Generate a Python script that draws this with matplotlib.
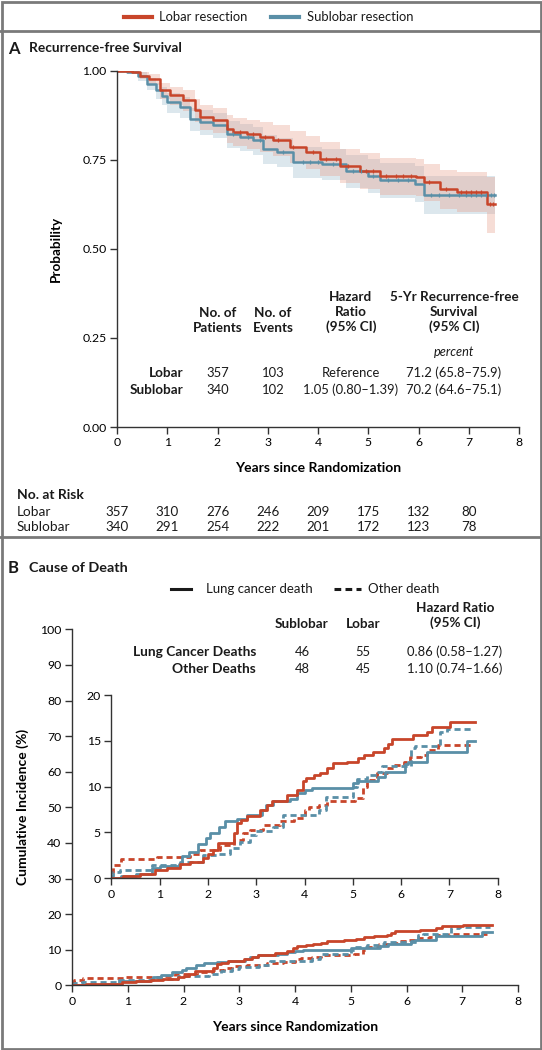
import numpy as np
import matplotlib.pyplot as plt
import matplotlib.transforms as mtransforms
from matplotlib.lines import Line2D
from matplotlib.patches import Rectangle

plt.rcParams['font.family'] = ['Lato', 'DejaVu Sans']
plt.rcParams['font.size'] = 9
plt.rcParams['text.color'] = '#1a1a1a'

W, H = 542, 1050
RED = '#C8452A'
BLUE = '#5A8FA7'
FRAME = '#7a7a7a'

# ---- Panel A: recurrence-free survival
t_lobar = [0, 0.3, 0.45, 0.63, 0.86, 1.05, 1.32, 1.55, 1.65, 1.92, 2.18, 2.31, 2.58, 2.85,
           3.11, 3.44, 3.77, 4.04, 4.44, 4.84, 5.23, 5.96, 6.1, 6.43, 6.76, 7.36, 7.52]
s_lobar = [1.0, 0.995, 0.985, 0.975, 0.944, 0.93, 0.916, 0.888, 0.869, 0.86, 0.836, 0.827,
           0.822, 0.813, 0.804, 0.785, 0.771, 0.752, 0.733, 0.719, 0.704, 0.701, 0.687,
           0.668, 0.659, 0.626, 0.626]
lo_lobar = [1.0, 0.99, 0.975, 0.958, 0.92, 0.903, 0.886, 0.855, 0.834, 0.824, 0.797, 0.787,
            0.78, 0.77, 0.76, 0.74, 0.725, 0.705, 0.684, 0.669, 0.652, 0.649, 0.634, 0.612,
            0.602, 0.545, 0.545]
hi_lobar = [1.0, 1.0, 0.995, 0.99, 0.966, 0.955, 0.944, 0.92, 0.902, 0.894, 0.874, 0.866,
            0.862, 0.855, 0.847, 0.829, 0.816, 0.799, 0.781, 0.768, 0.755, 0.752, 0.739,
            0.722, 0.714, 0.702, 0.702]

t_sub = [0, 0.2, 0.42, 0.6, 0.77, 0.89, 1.0, 1.25, 1.45, 1.65, 1.92, 2.18, 2.45, 2.71,
         2.91, 3.18, 3.51, 4.07, 4.55, 5.0, 5.24, 5.93, 6.1, 7.52]
s_sub = [1.0, 0.995, 0.984, 0.962, 0.944, 0.928, 0.911, 0.897, 0.864, 0.855, 0.846, 0.822,
         0.813, 0.804, 0.78, 0.771, 0.743, 0.738, 0.718, 0.705, 0.693, 0.683, 0.651, 0.651]
lo_sub = [1.0, 0.99, 0.97, 0.944, 0.92, 0.902, 0.882, 0.866, 0.83, 0.82, 0.81, 0.784, 0.774,
          0.764, 0.738, 0.728, 0.699, 0.693, 0.671, 0.656, 0.643, 0.632, 0.598, 0.595]
hi_sub = [1.0, 1.0, 0.995, 0.98, 0.965, 0.953, 0.938, 0.926, 0.896, 0.888, 0.88, 0.858,
          0.85, 0.842, 0.82, 0.812, 0.786, 0.781, 0.763, 0.752, 0.741, 0.733, 0.703, 0.703]

cens_lobar = [2.45, 2.7, 2.95, 3.2, 3.5, 3.9, 4.15, 4.35, 4.6, 4.95, 5.1, 5.35, 5.55, 5.7,
              5.85, 6.2, 6.55, 6.85, 6.95, 7.05, 7.15, 7.25, 7.42, 7.48]
cens_sub = [2.3, 2.6, 2.85, 3.3, 3.7, 3.85, 4.0, 4.3, 4.7, 4.85, 5.1, 5.4, 5.6, 5.8, 6.25,
            6.4, 6.6, 6.8, 6.95, 7.05, 7.15, 7.25, 7.35, 7.45, 7.5]

years = [0, 1, 2, 3, 4, 5, 6, 7]
risk_lobar = [357, 310, 276, 246, 209, 175, 132, 80]
risk_sub = [340, 291, 254, 222, 201, 172, 123, 78]

# ---- Panel B: cumulative incidence (%) by cause of death
t_lob_lc = [0, 0.25, 0.6, 0.9, 1.15, 1.42, 1.63, 1.9, 2.0, 2.1, 2.2, 2.53, 2.6, 2.68, 2.8,
            3.08, 3.23, 3.33, 3.64, 3.85, 3.97, 4.04, 4.19, 4.33, 4.47, 4.58, 4.87, 5.1,
            5.24, 5.41, 5.65, 5.72, 5.8, 6.25, 6.53, 6.64, 7.02, 7.53]
v_lob_lc = [0, 0.3, 0.5, 0.9, 1.1, 1.6, 1.8, 2.2, 2.7, 3.1, 3.9, 4.9, 6.0, 6.4, 6.8, 7.5,
            8.0, 8.4, 9.1, 9.6, 10.6, 10.9, 11.3, 11.5, 12.0, 12.55, 12.7, 13.1, 13.5, 13.8,
            14.2, 14.7, 15.2, 15.6, 16.0, 16.55, 17.0, 17.0]

t_sub_lc = [0, 0.2, 0.52, 0.84, 1.0, 1.4, 1.46, 1.6, 1.8, 1.97, 2.05, 2.22, 2.36, 2.6, 2.8,
            3.11, 3.2, 3.34, 3.7, 3.85, 4.0, 4.15, 5.01, 5.11, 5.53, 5.67, 6.08, 6.15, 6.53,
            7.36, 7.53]
v_sub_lc = [0, 0.2, 0.47, 1.1, 1.3, 1.6, 2.4, 2.9, 3.7, 4.4, 4.9, 5.6, 6.3, 6.5, 6.9, 7.5,
            7.95, 8.4, 8.7, 9.3, 9.6, 9.8, 10.4, 10.6, 11.0, 11.6, 12.5, 12.7, 13.8, 15.0, 15.0]

t_lob_ot = [0, 0.04, 0.2, 0.94, 1.63, 1.84, 2.25, 2.53, 2.73, 2.87, 3.14, 3.49, 3.78, 4.0,
            4.1, 4.3, 4.46, 4.6, 5.05, 5.22, 5.29, 5.5, 5.7, 5.85, 6.05, 6.19, 6.4, 6.53,
            6.77, 7.45]
v_lob_ot = [0.7, 1.45, 2.07, 2.36, 2.7, 3.1, 3.6, 4.2, 4.9, 5.3, 5.8, 6.2, 6.55, 7.45, 7.8,
            8.0, 8.4, 8.45, 8.8, 10.0, 10.7, 11.5, 12.0, 12.4, 12.7, 13.2, 13.45, 14.0,
            14.55, 14.55]

t_sub_ot = [0, 0.04, 0.18, 0.84, 1.42, 1.9, 2.18, 2.46, 2.67, 2.87, 3.0, 3.35, 3.56, 4.3,
            4.45, 5.01, 5.08, 5.29, 5.5, 5.6, 6.2, 6.29, 6.8, 6.94, 7.5]
v_sub_ot = [0.3, 0.72, 0.9, 1.45, 1.8, 2.54, 2.7, 3.3, 4.0, 4.7, 5.2, 5.6, 6.9, 7.4, 8.9,
            10.0, 10.8, 11.3, 11.6, 12.2, 14.2, 14.4, 16.0, 16.3, 16.3]


def fx(x):
    return x / W


def fy(y):
    return 1 - y / H


def style_axis(ax):
    for side in ['top', 'right']:
        ax.spines[side].set_visible(False)
    for side in ['left', 'bottom']:
        ax.spines[side].set_linewidth(1.0)
        ax.spines[side].set_color('#333333')
    ax.tick_params(direction='out', length=5, width=1.0, color='#333333',
                   labelsize=8.8, pad=2.5)
    ax.patch.set_alpha(0)


def step_at(t, s, x):
    idx = np.searchsorted(t, x, side='right') - 1
    return np.asarray(s)[idx]


fig = plt.figure(figsize=(W / 100, H / 100), dpi=100)

# frame and panel separators
fig.add_artist(Rectangle((fx(1.5), fy(1048.5)), (W - 3) / W, (H - 3) / H,
                         transform=fig.transFigure, fill=False, ec=FRAME, lw=2))
for yy in [31, 537]:
    fig.add_artist(Line2D([0, 1], [fy(yy), fy(yy)], transform=fig.transFigure,
                          color=FRAME, lw=2))

# top legend
fig.add_artist(Line2D([fx(124), fx(152)], [fy(17), fy(17)], transform=fig.transFigure,
                      color=RED, lw=3))
fig.text(fx(159), fy(17), 'Lobar resection', va='center', fontsize=9.4)
fig.add_artist(Line2D([fx(271), fx(299)], [fy(17), fy(17)], transform=fig.transFigure,
                      color=BLUE, lw=3))
fig.text(fx(307), fy(17), 'Sublobar resection', va='center', fontsize=9.4)

# ---------------- Panel A ----------------
fig.text(fx(8), fy(48.5), 'A', fontsize=12, fontweight='bold', va='center')
fig.text(fx(29), fy(48.5), 'Recurrence-free Survival', fontsize=9.9, fontweight='bold',
         va='center')

ax_a = fig.add_axes([fx(117), fy(427), (519 - 117) / W, (427 - 70.5) / H])
style_axis(ax_a)
ax_a.fill_between(t_sub, lo_sub, hi_sub, step='post', color='#9BBDCE', alpha=0.35, lw=0)
ax_a.fill_between(t_lobar, lo_lobar, hi_lobar, step='post', color='#E89E8A', alpha=0.35, lw=0)
ax_a.step(t_sub, s_sub, where='post', color=BLUE, lw=1.8)
ax_a.step(t_lobar, s_lobar, where='post', color=RED, lw=1.8)
ax_a.plot(cens_sub, step_at(t_sub, s_sub, cens_sub), ls='none', marker='|', ms=3.5,
          mew=0.9, color=BLUE)
ax_a.plot(cens_lobar, step_at(t_lobar, s_lobar, cens_lobar), ls='none', marker='|', ms=3.5,
          mew=0.9, color=RED)
ax_a.set_xlim(0, 8)
ax_a.set_ylim(0, 1.0)
ax_a.set_xticks(range(9))
ax_a.set_yticks([0, 0.25, 0.5, 0.75, 1.0])
ax_a.set_yticklabels(['0.00', '0.25', '0.50', '0.75', '1.00'])
ax_a.set_ylabel('Probability', fontsize=9.7, fontweight='bold', labelpad=15)
ax_a.set_xlabel('Years since Randomization', fontsize=10, fontweight='bold', labelpad=10)

# table inside panel A
hdr = dict(ha='center', va='center', fontsize=9.7, fontweight='bold', linespacing=1.3)
fig.text(fx(218), fy(320.5), 'No. of\nPatients', **hdr)
fig.text(fx(273), fy(320.5), 'No. of\nEvents', **hdr)
fig.text(fx(351), fy(312), 'Hazard\nRatio\n(95% CI)', **hdr)
fig.text(fx(454), fy(312), '5-Yr Recurrence-free\nSurvival\n(95% CI)', **hdr)
fig.text(fx(454), fy(352), 'percent', ha='center', va='center', fontsize=9.2, style='italic')
rows_a = [('Lobar', '357', '103', 'Reference', '71.2 (65.8\u201375.9)', 373),
          ('Sublobar', '340', '102', '1.05 (0.80\u20131.39)', '70.2 (64.6\u201375.1)', 390)]
for lab, n, ev, hr, rfs, yy in rows_a:
    fig.text(fx(183), fy(yy), lab, ha='right', va='center', fontsize=9.7, fontweight='bold')
    fig.text(fx(218), fy(yy), n, ha='center', va='center', fontsize=9.4)
    fig.text(fx(273), fy(yy), ev, ha='center', va='center', fontsize=9.4)
    fig.text(fx(351), fy(yy), hr, ha='center', va='center', fontsize=9.4)
    fig.text(fx(454), fy(yy), rfs, ha='center', va='center', fontsize=9.4)

# number at risk
fig.text(fx(17), fy(495), 'No. at Risk', fontsize=10, fontweight='bold', va='center')
fig.text(fx(17), fy(512), 'Lobar', fontsize=9.8, va='center')
fig.text(fx(17), fy(527), 'Sublobar', fontsize=9.8, va='center')
blend = mtransforms.blended_transform_factory(ax_a.transData, fig.transFigure)
for yr, a, b in zip(years, risk_lobar, risk_sub):
    ax_a.text(yr, fy(512), str(a), transform=blend, ha='center', va='center', fontsize=9.6)
    ax_a.text(yr, fy(527), str(b), transform=blend, ha='center', va='center', fontsize=9.6)

# ---------------- Panel B ----------------
fig.text(fx(8), fy(568), 'B', fontsize=12, fontweight='bold', va='center')
fig.text(fx(29), fy(568), 'Cause of Death', fontsize=10.4, fontweight='bold', va='center')

fig.add_artist(Line2D([fx(171), fx(191)], [fy(589), fy(589)], transform=fig.transFigure,
                      color='#1a1a1a', lw=2.2))
fig.text(fx(206), fy(589), 'Lung cancer death', va='center', fontsize=9.5)
fig.add_artist(Line2D([fx(334), fx(361)], [fy(589), fy(589)], transform=fig.transFigure,
                      color='#1a1a1a', lw=2.2, dashes=(2.2, 1.4)))
fig.text(fx(368), fy(589), 'Other death', va='center', fontsize=9.5)

fig.text(fx(455), fy(615.5), 'Hazard Ratio\n(95% CI)', **hdr)
fig.text(fx(302), fy(624), 'Sublobar', **hdr)
fig.text(fx(363), fy(624), 'Lobar', **hdr)
rows_b = [('Lung Cancer Deaths', '46', '55', '0.86 (0.58\u20131.27)', 652),
          ('Other Deaths', '48', '45', '1.10 (0.74\u20131.66)', 669)]
for lab, s, l, hr, yy in rows_b:
    fig.text(fx(256), fy(yy), lab, ha='right', va='center', fontsize=9.9, fontweight='bold')
    fig.text(fx(302), fy(yy), s, ha='center', va='center', fontsize=9.4)
    fig.text(fx(363), fy(yy), l, ha='center', va='center', fontsize=9.4)
    fig.text(fx(455), fy(yy), hr, ha='center', va='center', fontsize=9.4)

ax_b = fig.add_axes([fx(72), fy(985.3), (518 - 72) / W, (985.3 - 629.3) / H])
ax_i = fig.add_axes([fx(111.3), fy(878.3), (497.8 - 111.3) / W, (878.3 - 695) / H])
for ax in [ax_b, ax_i]:
    style_axis(ax)
    ax.step(t_lob_ot, v_lob_ot, where='post', color=RED, lw=2, dashes=(2.2, 1.4))
    ax.step(t_sub_ot, v_sub_ot, where='post', color=BLUE, lw=2, dashes=(2.2, 1.4))
    ax.step(t_sub_lc, v_sub_lc, where='post', color=BLUE, lw=2)
    ax.step(t_lob_lc, v_lob_lc, where='post', color=RED, lw=2)
    ax.set_xlim(0, 8)
    ax.set_xticks(range(9))

ax_b.set_ylim(0, 100)
ax_b.set_yticks(range(0, 101, 10))
ax_b.set_ylabel('Cumulative Incidence (%)', fontsize=10, fontweight='bold', labelpad=8)
ax_b.set_xlabel('Years since Randomization', fontsize=10, fontweight='bold', labelpad=10)

ax_i.set_ylim(0, 20)
ax_i.set_yticks(range(0, 21, 5))

fig.savefig('out.png', dpi=100)
